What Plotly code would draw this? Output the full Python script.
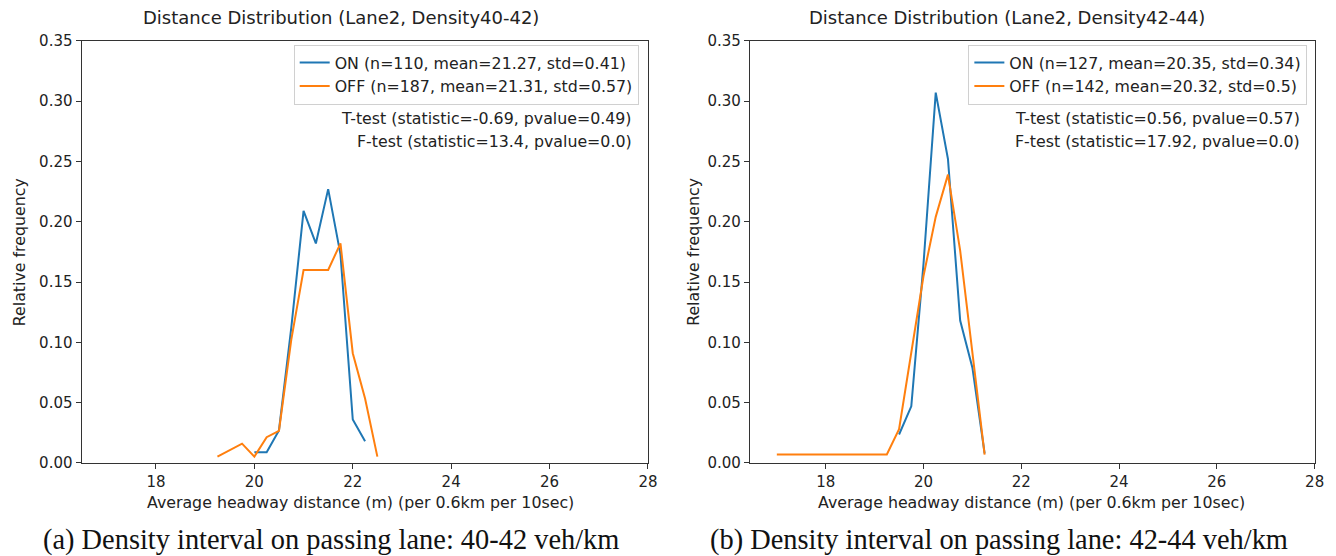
import plotly.graph_objects as go

# ---------------- data ----------------
# Left panel: Lane2, Density 40-42
left_on_x = [20.0, 20.25, 20.5, 20.75, 21.0, 21.25, 21.5, 21.75, 22.0, 22.25]
left_on_y = [0.009, 0.009, 0.027, 0.112, 0.209, 0.182, 0.227, 0.173, 0.036, 0.018]
left_off_x = [19.25, 19.75, 20.0, 20.25, 20.5, 20.75, 21.0, 21.25, 21.5, 21.75, 22.0, 22.25, 22.5]
left_off_y = [0.0053, 0.016, 0.0053, 0.0214, 0.0267, 0.102, 0.160, 0.160, 0.160, 0.182, 0.091, 0.0535, 0.0053]

# Right panel: Lane2, Density 42-44
right_on_x = [19.5, 19.75, 20.0, 20.25, 20.5, 20.75, 21.0, 21.25]
right_on_y = [0.0236, 0.047, 0.165, 0.307, 0.252, 0.118, 0.079, 0.0079]
right_off_x = [17.0, 19.25, 19.5, 19.75, 20.0, 20.25, 20.5, 20.75, 21.0, 21.25]
right_off_y = [0.007, 0.007, 0.028, 0.0915, 0.155, 0.204, 0.239, 0.176, 0.0915, 0.007]

left_labels = ["ON (n=110, mean=21.27, std=0.41)", "OFF (n=187, mean=21.31, std=0.57)"]
right_labels = ["ON (n=127, mean=20.35, std=0.34)", "OFF (n=142, mean=20.32, std=0.5)"]
left_tests = ["T-test (statistic=-0.69, pvalue=0.49)", "F-test (statistic=13.4, pvalue=0.0)"]
right_tests = ["T-test (statistic=0.56, pvalue=0.57)", "F-test (statistic=17.92, pvalue=0.0)"]

titles = ["Distance Distribution (Lane2, Density40-42)", "Distance Distribution (Lane2, Density42-44)"]
captions = ["(a) Density interval on passing lane: 40-42 veh/km", "(b) Density interval on passing lane: 42-44 veh/km"]
x_title = "Average headway distance (m) (per 0.6km per 10sec)"
y_title = "Relative frequency"

x_ticks = [18, 20, 22, 24, 26, 28]
y_ticks = [0.0, 0.05, 0.10, 0.15, 0.20, 0.25, 0.30, 0.35]

# ---------------- figure ----------------
W, H = 1336, 556
BLUE, ORANGE = "#1f77b4", "#ff7f0e"
FONT = "DejaVu Sans"
TXT = "#222222"
FS = 15.8

fig = go.Figure()
fig.add_trace(go.Scatter(x=left_on_x, y=left_on_y, mode="lines", name=left_labels[0],
                         line=dict(color=BLUE, width=2), xaxis="x", yaxis="y", legend="legend"))
fig.add_trace(go.Scatter(x=left_off_x, y=left_off_y, mode="lines", name=left_labels[1],
                         line=dict(color=ORANGE, width=2), xaxis="x", yaxis="y", legend="legend"))
fig.add_trace(go.Scatter(x=right_on_x, y=right_on_y, mode="lines", name=right_labels[0],
                         line=dict(color=BLUE, width=2), xaxis="x2", yaxis="y2", legend="legend2"))
fig.add_trace(go.Scatter(x=right_off_x, y=right_off_y, mode="lines", name=right_labels[1],
                         line=dict(color=ORANGE, width=2), xaxis="x2", yaxis="y2", legend="legend2"))

# mapping from target picture pixels to layout pixels (compensates the capture's placement)
def px_x(p):
    return ((p + 1) / 0.993) / W

def px_y(p):
    return 1 - ((p - 8.2) / 0.970) / H

ydom = [px_y(463.3), px_y(40)]
axis_common = dict(showline=True, mirror=True, linecolor="#333333", linewidth=1.3,
                   ticks="outside", ticklen=5, tickwidth=1.2, tickcolor="#333333",
                   showgrid=False, zeroline=False,
                   tickfont=dict(family=FONT, size=15, color=TXT))

legend_common = dict(xanchor="right", yanchor="top",
                     bordercolor="#d0d0d0", borderwidth=1, bgcolor="rgba(255,255,255,0.9)",
                     font=dict(family=FONT, size=FS, color=TXT), tracegroupgap=0,
                     itemwidth=30)

fig.update_layout(
    width=W, height=H,
    margin=dict(l=0, r=0, t=0, b=0),
    paper_bgcolor="white", plot_bgcolor="white",
    font=dict(family=FONT, color=TXT),
    xaxis=dict(domain=[px_x(80.7), px_x(647.3)], range=[16.49, 28.0], tickvals=x_ticks,
               anchor="y", **axis_common),
    yaxis=dict(domain=ydom, range=[0, 0.35], tickvals=y_ticks, tickformat=".2f",
               anchor="x", **axis_common),
    xaxis2=dict(domain=[px_x(749.3), px_x(1314.3)], range=[16.45, 28.0], tickvals=x_ticks,
                anchor="y2", **axis_common),
    yaxis2=dict(domain=ydom, range=[0, 0.35], tickvals=y_ticks, tickformat=".2f",
                anchor="x2", **axis_common),
    legend=dict(x=px_x(638), y=px_y(44), **legend_common),
    legend2=dict(x=px_x(1307), y=px_y(44), **legend_common),
    showlegend=True,
)

ann = []
# titles
for cx, t in [(340, titles[0]), (1006, titles[1])]:
    ann.append(dict(x=px_x(cx), y=px_y(17), xref="paper", yref="paper", text=t, showarrow=False,
                    xanchor="center", yanchor="middle", font=dict(family=FONT, size=18, color=TXT)))
# x axis titles
for cx in [360, 1031]:
    ann.append(dict(x=px_x(cx), y=px_y(503), xref="paper", yref="paper", text=x_title, showarrow=False,
                    xanchor="center", yanchor="middle", font=dict(family=FONT, size=FS, color=TXT)))
# y axis titles
for cx in [18, 693]:
    ann.append(dict(x=px_x(cx), y=px_y(252), xref="paper", yref="paper", text=y_title, showarrow=False,
                    textangle=-90, xanchor="center", yanchor="middle",
                    font=dict(family=FONT, size=FS, color=TXT)))
# test statistics
for rx, tests in [(633, left_tests), (1302, right_tests)]:
    for yy, t in zip([118, 141], tests):
        ann.append(dict(x=px_x(rx), y=px_y(yy), xref="paper", yref="paper", text=t, showarrow=False,
                        xanchor="right", yanchor="middle", font=dict(family=FONT, size=FS, color=TXT)))
# captions
for cx, t in [(330, captions[0]), (998, captions[1])]:
    ann.append(dict(x=px_x(cx), y=px_y(541), xref="paper", yref="paper", text=t, showarrow=False,
                    xanchor="center", yanchor="middle",
                    font=dict(family="Liberation Serif", size=28.4, color="#111111")))
fig.update_layout(annotations=ann)

fig.write_html("out.html")
